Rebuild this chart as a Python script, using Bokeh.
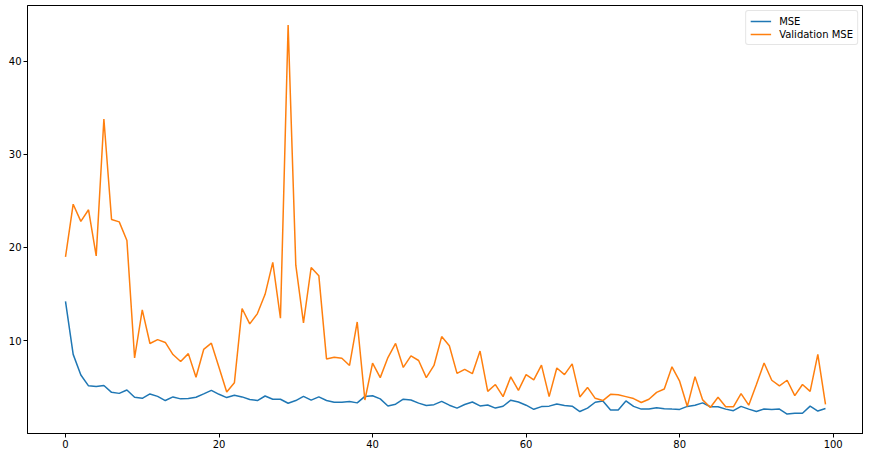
from bokeh.plotting import figure
from bokeh.models import Range1d, FixedTicker, Legend, LegendItem
from bokeh.embed import file_html
from bokeh.resources import INLINE

epochs = list(range(100))

mse = [14.2, 8.52, 6.3, 5.14, 5.07, 5.18, 4.44, 4.33, 4.69, 3.91,
       3.8, 4.27, 4.01, 3.56, 3.95, 3.74, 3.77, 3.91, 4.27, 4.65,
       4.23, 3.88, 4.12, 3.95, 3.67, 3.56, 4.05, 3.7, 3.7, 3.27,
       3.56, 4.01, 3.6, 3.95, 3.56, 3.38, 3.38, 3.45, 3.31, 4.0,
       4.07, 3.74, 2.98, 3.17, 3.7, 3.62, 3.28, 3.03, 3.12, 3.47,
       3.06, 2.75, 3.14, 3.4, 2.98, 3.08, 2.75, 2.95, 3.6, 3.4,
       3.06, 2.62, 2.91, 2.96, 3.18, 3.02, 2.95, 2.38, 2.75, 3.38,
       3.52, 2.54, 2.54, 3.52, 2.93, 2.64, 2.64, 2.79, 2.68, 2.64,
       2.61, 2.93, 3.06, 3.31, 2.89, 2.89, 2.64, 2.47, 2.93, 2.64,
       2.38, 2.66, 2.61, 2.64, 2.11, 2.19, 2.19, 2.96, 2.43, 2.71]

val_mse = [18.98, 24.65, 22.8, 24.05, 19.1, 33.8, 23.0, 22.75, 20.75, 8.13,
           13.3, 9.69, 10.1, 9.8, 8.5, 7.75, 8.6, 6.06, 9.05, 9.72,
           7.1, 4.48, 5.46, 13.45, 11.8, 12.9, 14.97, 18.4, 12.4, 43.9,
           18.1, 11.9, 17.85, 16.97, 8.03, 8.2, 8.1, 7.33, 12.0, 3.62,
           7.57, 6.02, 8.18, 9.69, 7.12, 8.35, 7.86, 6.02, 7.33, 10.43,
           9.44, 6.48, 6.9, 6.45, 8.87, 4.54, 5.28, 3.98, 6.1, 4.65,
           6.34, 5.78, 7.36, 3.98, 7.05, 6.34, 7.5, 3.95, 4.97, 3.8,
           3.56, 4.23, 4.19, 3.98, 3.77, 3.35, 3.7, 4.44, 4.8, 7.18,
           5.64, 2.93, 6.13, 3.63, 2.82, 3.91, 2.89, 2.89, 4.3, 3.06,
           5.28, 7.6, 5.74, 5.14, 5.74, 4.09, 5.28, 4.54, 8.52, 3.14]

x_ticks = [0, 20, 40, 60, 80, 100]
y_ticks = [10, 20, 30, 40]

xmin, xmax = min(epochs), max(epochs)
xpad = 0.05 * (xmax - xmin)
allv = mse + val_mse
ymin, ymax = min(allv), max(allv)
ypad = 0.05 * (ymax - ymin)

p = figure(output_backend="svg", toolbar_location=None,
           width=863, height=450,
           min_border_left=27, min_border_right=0, min_border_top=5,
           min_border_bottom=16,
           x_range=Range1d(xmin - xpad, xmax + xpad),
           y_range=Range1d(ymin - ypad, ymax + ypad))

p.background_fill_color = "white"
p.border_fill_color = "white"
p.outline_line_color = "black"
p.outline_line_width = 1
p.xgrid.visible = False
p.ygrid.visible = False

for ax in (p.xaxis[0], p.yaxis[0]):
    ax.axis_line_color = "black"
    ax.axis_line_width = 1
    ax.major_tick_line_color = "black"
    ax.major_tick_out = 4
    ax.major_tick_in = 0
    ax.minor_tick_line_color = None
    ax.major_label_text_font = "DejaVu Sans"
    ax.major_label_text_font_size = "10px"
    ax.major_label_text_color = "#000000"
    ax.major_label_standoff = 2

p.xaxis.ticker = FixedTicker(ticks=x_ticks)
p.yaxis.ticker = FixedTicker(ticks=y_ticks)

r1 = p.line(epochs, mse, line_color="#1f77b4", line_width=1.5)
r2 = p.line(epochs, val_mse, line_color="#ff7f0e", line_width=1.5)

legend = Legend(items=[LegendItem(label="MSE", renderers=[r1]),
                       LegendItem(label="Validation MSE", renderers=[r2])],
                location="top_right")
legend.label_text_font = "DejaVu Sans"
legend.label_text_font_size = "10px"
legend.label_text_color = "#000000"
legend.glyph_width = 21
legend.glyph_height = 12
legend.label_height = 12
legend.label_standoff = 8
legend.spacing = 1
legend.padding = 4
legend.margin = 5
legend.border_line_color = "#cccccc"
legend.border_line_width = 1
legend.background_fill_alpha = 0.8
legend.border_radius = 3
p.add_layout(legend, "center")

open("out.html", "w").write(file_html(p, INLINE))
